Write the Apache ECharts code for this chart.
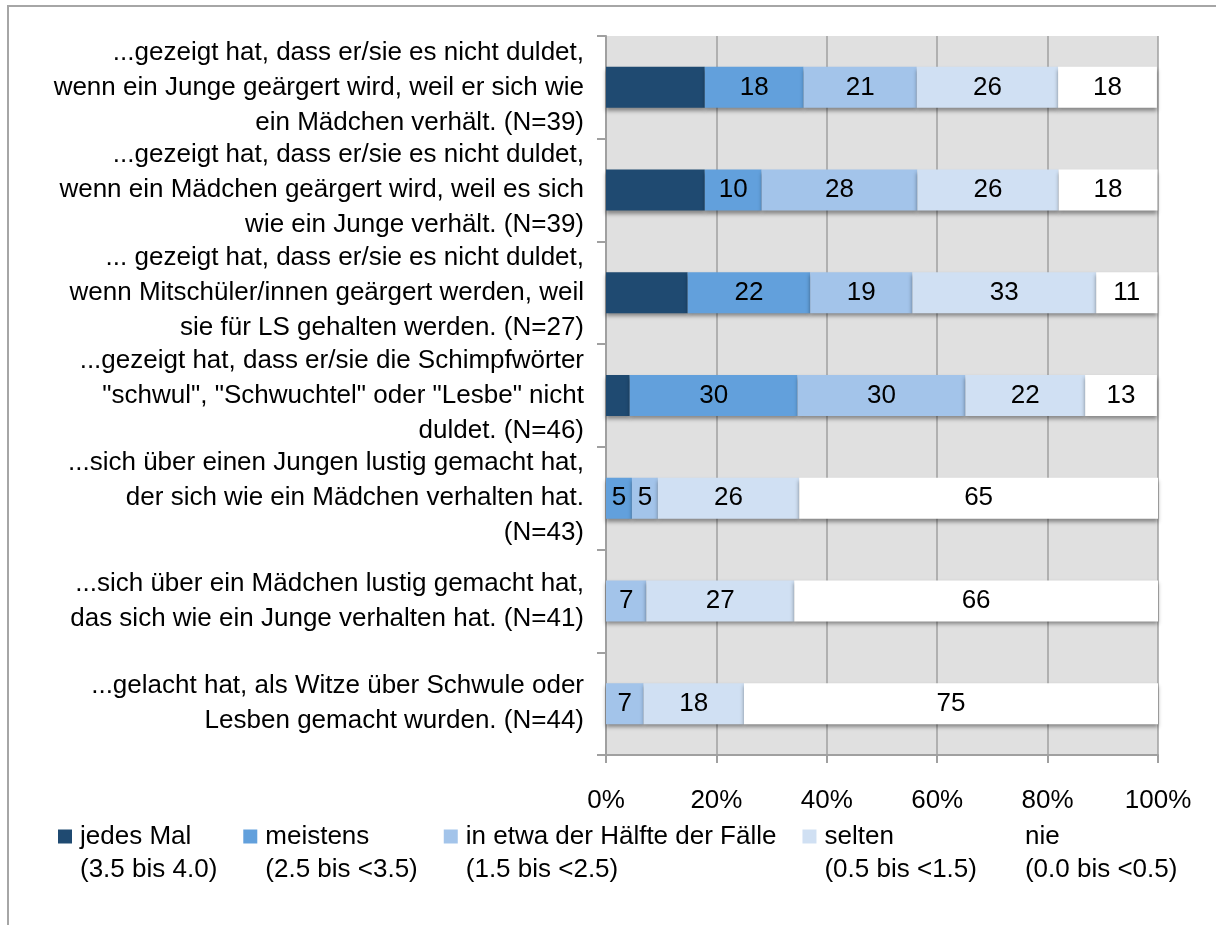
<!DOCTYPE html>
<html>
<head>
<meta charset="utf-8">
<script src="https://cdn.jsdelivr.net/npm/echarts@6/dist/echarts.min.js"></script>
<style>
html,body{margin:0;padding:0;background:#fff;}
#chart{width:1216px;height:925px;}
</style>
</head>
<body>
<div id="chart"></div>
<script>
const categories = [
  '...gezeigt hat, dass er/sie es nicht duldet,\nwenn ein Junge geärgert wird, weil er sich wie\nein Mädchen verhält. (N=39)',
  '...gezeigt hat, dass er/sie es nicht duldet,\nwenn ein Mädchen geärgert wird, weil es sich\nwie ein Junge verhält. (N=39)',
  '... gezeigt hat, dass er/sie es nicht duldet,\nwenn Mitschüler/innen geärgert werden, weil\nsie für LS gehalten werden. (N=27)',
  '...gezeigt hat, dass er/sie die Schimpfwörter\n"schwul", "Schwuchtel" oder "Lesbe" nicht\nduldet. (N=46)',
  '...sich über einen Jungen lustig gemacht hat,\nder sich wie ein Mädchen verhalten hat.\n(N=43)',
  '...sich über ein Mädchen lustig gemacht hat,\ndas sich wie ein Junge verhalten hat. (N=41)',
  '...gelacht hat, als Witze über Schwule oder\nLesben gemacht wurden. (N=44)'
];
const seriesNames = ['jedes Mal', 'meistens', 'in etwa der Hälfte der Fälle', 'selten', 'nie'];
const seriesRanges = ['(3.5 bis 4.0)', '(2.5 bis <3.5)', '(1.5 bis <2.5)', '(0.5 bis <1.5)', '(0.0 bis <0.5)'];
const jedesMal = [17.9, 17.9, 14.8, 4.3, 0, 0, 0];
const meistens = [17.9, 10.3, 22.2, 30.4, 4.7, 0, 0];
const haelfte  = [20.5, 28.2, 18.5, 30.4, 4.7, 7.3, 6.8];
const selten   = [25.6, 25.6, 33.3, 21.7, 25.6, 26.8, 18.2];
const nie      = [17.9, 17.9, 11.1, 13.0, 65.1, 65.9, 75.0];
const xTicks = [0, 20, 40, 60, 80, 100];

const colors = ['#1f4a71', '#62a0dc', '#a3c4ea', '#d0e0f3', '#ffffff'];
const seriesData = [jedesMal, meistens, haelfte, selten, nie];
const showLabel = [false, true, true, true, true];
const FONT = "'Liberation Sans', Arial, sans-serif";
const FS = 26;

const chart = echarts.init(document.getElementById('chart'), null, {renderer: 'canvas'});
const option = {
  animation: false,
  backgroundColor: '#fff',
  textStyle: {fontFamily: FONT},
  graphic: [{
    type: 'rect', z: -10,
    shape: {x: 8, y: 6, width: 1400, height: 1200},
    style: {fill: 'none', stroke: '#a6a6a6', lineWidth: 2}
  }],
  grid: {left: 606, right: 58, top: 36, bottom: 170, containLabel: false,
         show: true, backgroundColor: '#e0e0e0', borderWidth: 0},
  xAxis: {
    type: 'value', min: 0, max: 100, interval: 20,
    axisLine: {show: true, lineStyle: {color: '#a0a0a0', width: 2}},
    axisTick: {show: true, length: 8, lineStyle: {color: '#a0a0a0', width: 2}},
    splitLine: {show: true, lineStyle: {color: '#a0a0a0', width: 1.5}},
    axisLabel: {margin: 33, fontSize: FS, color: '#000', fontFamily: FONT,
      formatter: v => xTicks.indexOf(v) >= 0 ? v + '%' : ''}
  },
  yAxis: {
    type: 'category', inverse: true, data: categories,
    axisLine: {show: true, lineStyle: {color: '#a0a0a0', width: 2}},
    axisTick: {show: true, length: 9, lineStyle: {color: '#a0a0a0', width: 2}},
    axisLabel: {interval: 0, showMinLabel: true, showMaxLabel: true, hideOverlap: false,
      margin: 22, fontSize: FS, lineHeight: 35, color: '#000', fontFamily: FONT, align: 'right'}
  },
  legend: {
    left: 58, top: 787, padding: 0, itemWidth: 14, itemHeight: 14, itemGap: 26,
    icon: 'rect',
    selectedMode: false,
    data: seriesNames,
    formatter: name => '{t| }\n{t|' + name + '}\n{t|' + seriesRanges[seriesNames.indexOf(name)] + '}',
    textStyle: {fontSize: FS, lineHeight: 33, color: '#000', fontFamily: FONT,
      rich: {t: {fontSize: FS, lineHeight: 33, color: '#000', fontFamily: FONT, padding: [0, 0, 0, 3]}}}
  },
  series: seriesNames.map((n, i) => ({
    name: n, type: 'bar', stack: 'total', barWidth: 41,
    data: seriesData[i],
    itemStyle: {color: colors[i], shadowColor: 'rgba(0,0,0,0.4)', shadowBlur: 4, shadowOffsetY: 3},
    label: {
      show: showLabel[i], position: 'inside', fontSize: FS, color: '#000', fontFamily: FONT,
      formatter: p => p.value > 0 ? String(Math.round(p.value)) : ''
    }
  }))
};
chart.setOption(option);
</script>
</body>
</html>
